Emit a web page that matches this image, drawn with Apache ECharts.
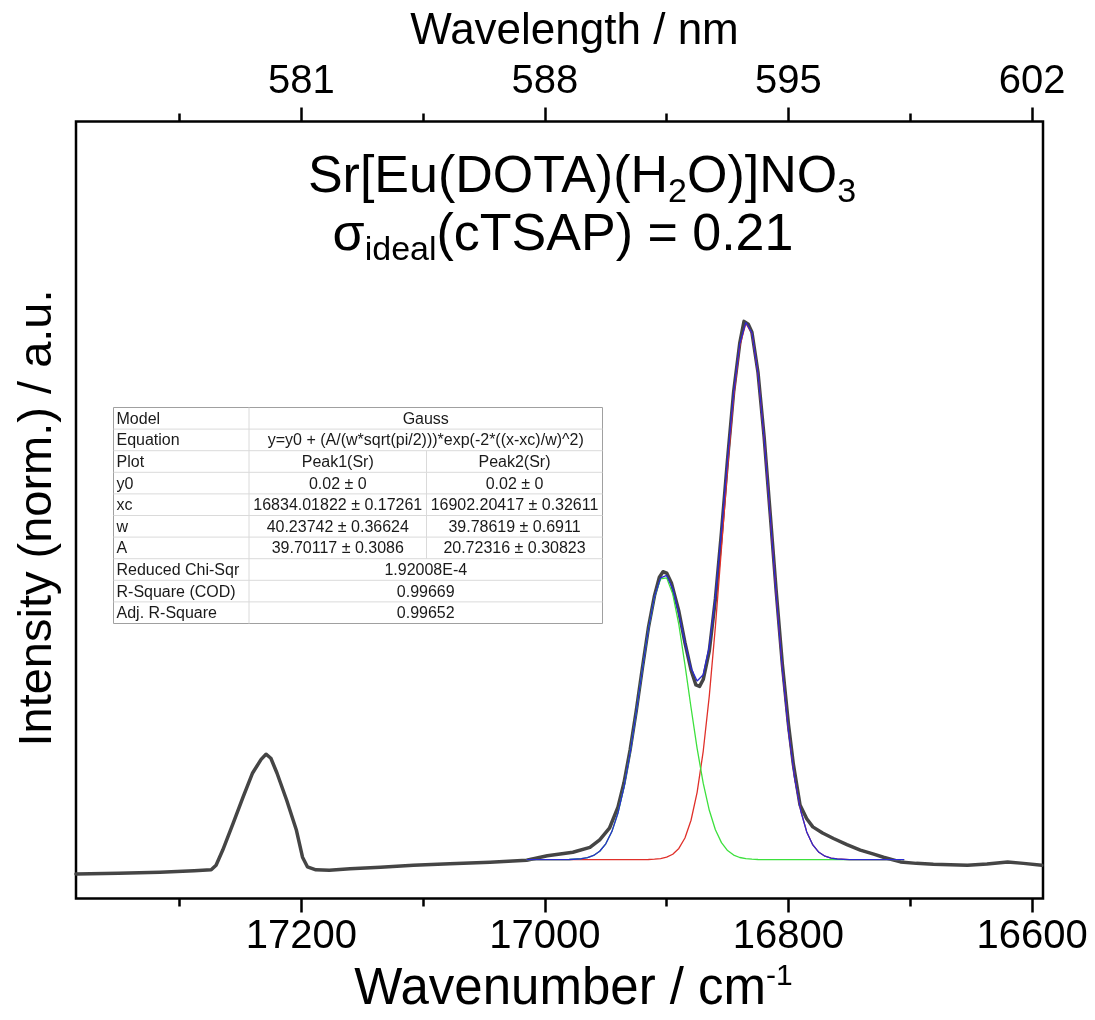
<!DOCTYPE html>
<html>
<head>
<meta charset="utf-8">
<script src="https://cdn.jsdelivr.net/npm/echarts@6/dist/echarts.min.js"></script>
<style>
  html, body { margin: 0; background: #fff; }
  #chart { width: 1095px; height: 1020px; }
</style>
</head>
<body>
<div id="chart"></div>
<script>
// measured spectrum (wavenumber / cm-1, normalised intensity)
const specWavenumber = [17385, 17350, 17316, 17288, 17274, 17270, 17264.5, 17256, 17248, 17240, 17233, 17229, 17227.5, 17225, 17220, 17212, 17204, 17199, 17195, 17188, 17177, 17160, 17135, 17108, 17078, 17045, 17015, 16998, 16977, 16963, 16955, 16947, 16940, 16935, 16930, 16925, 16920, 16915, 16910, 16906, 16903, 16900, 16896, 16890, 16885, 16880, 16876, 16873, 16870, 16865, 16860, 16855, 16850, 16845, 16840, 16836.5, 16833, 16830, 16825, 16820, 16815, 16810, 16805, 16800, 16796, 16790.5, 16785, 16780, 16772, 16763, 16752, 16741, 16730, 16722, 16708, 16695, 16681, 16667, 16653, 16637, 16620, 16607, 16592];
const specIntensity = [-0.001, 0.000, 0.0015, 0.0037, 0.005, 0.0117, 0.034, 0.073, 0.111, 0.147, 0.167, 0.1745, 0.1737, 0.1686, 0.147, 0.107, 0.063, 0.0235, 0.0095, 0.0051, 0.0044, 0.0066, 0.0088, 0.0117, 0.0139, 0.0161, 0.019, 0.0257, 0.0308, 0.038, 0.049, 0.066, 0.097, 0.133, 0.181, 0.238, 0.300, 0.360, 0.407, 0.434, 0.442, 0.440, 0.425, 0.384, 0.338, 0.298, 0.276, 0.274, 0.284, 0.326, 0.402, 0.500, 0.607, 0.706, 0.777, 0.809, 0.805, 0.793, 0.734, 0.640, 0.527, 0.412, 0.306, 0.218, 0.160, 0.100, 0.080, 0.068, 0.059, 0.051, 0.042, 0.034, 0.028, 0.0235, 0.0166, 0.0145, 0.0132, 0.0125, 0.0117, 0.0135, 0.0166, 0.0145, 0.0117];

// gauss fit curves
const fitWavenumber = [17015, 17000, 16990, 16980, 16970, 16965, 16960, 16955, 16950, 16945, 16940, 16935, 16930, 16925, 16920, 16915, 16910, 16905, 16900, 16895, 16890, 16885, 16880, 16875, 16870, 16865, 16860, 16855, 16850, 16845, 16840, 16835, 16830, 16825, 16820, 16815, 16810, 16805, 16800, 16795, 16790, 16785, 16780, 16775, 16770, 16765, 16760, 16750, 16740, 16730, 16720, 16705];
const fitPeak1 = [0.02, 0.02, 0.02, 0.02, 0.02, 0.02, 0.02, 0.02, 0.02, 0.02, 0.02, 0.02, 0.02, 0.02, 0.0201, 0.0202, 0.0206, 0.0216, 0.0236, 0.0279, 0.0364, 0.0517, 0.0777, 0.1187, 0.1788, 0.2601, 0.3615, 0.4765, 0.5937, 0.6978, 0.7728, 0.806, 0.7916, 0.7321, 0.6378, 0.5239, 0.4063, 0.2985, 0.2087, 0.1403, 0.092, 0.0606, 0.0415, 0.0307, 0.025, 0.0222, 0.0209, 0.0201, 0.02, 0.02, 0.02, 0.02];
const fitPeak2 = [0.02, 0.02, 0.02, 0.0202, 0.0213, 0.0229, 0.0261, 0.0323, 0.0432, 0.0611, 0.0883, 0.1267, 0.1765, 0.2355, 0.2985, 0.3578, 0.4048, 0.4314, 0.433, 0.4092, 0.3643, 0.3059, 0.243, 0.1832, 0.1321, 0.0923, 0.0638, 0.0449, 0.0333, 0.0267, 0.0231, 0.0214, 0.0206, 0.0202, 0.0201, 0.02, 0.02, 0.02, 0.02, 0.02, 0.02, 0.02, 0.02, 0.02, 0.02, 0.02, 0.02, 0.02, 0.02, 0.02, 0.02, 0.02];
const fitCumulative = [0.02, 0.02, 0.02, 0.0202, 0.0213, 0.0229, 0.0261, 0.0323, 0.0432, 0.0611, 0.0883, 0.1267, 0.1765, 0.2355, 0.2986, 0.358, 0.4054, 0.433, 0.4366, 0.4171, 0.3807, 0.3376, 0.3007, 0.2819, 0.2909, 0.3324, 0.4053, 0.5014, 0.607, 0.7045, 0.7759, 0.8074, 0.7922, 0.7323, 0.6379, 0.5239, 0.4063, 0.2985, 0.2087, 0.1403, 0.092, 0.0606, 0.0415, 0.0307, 0.025, 0.0222, 0.0209, 0.0201, 0.02, 0.02, 0.02, 0.02];

const majorTicks = [17200, 17000, 16800, 16600];
const minorTicks = [17300, 17100, 16900, 16700];
const wavelengthLabels = ['581', '588', '595', '602'];

const tableRows = [
  ['Model', 'Gauss'],
  ['Equation', 'y=y0 + (A/(w*sqrt(pi/2)))*exp(-2*((x-xc)/w)^2)'],
  ['Plot', 'Peak1(Sr)', 'Peak2(Sr)'],
  ['y0', '0.02 ± 0', '0.02 ± 0'],
  ['xc', '16834.01822 ± 0.17261', '16902.20417 ± 0.32611'],
  ['w', '40.23742 ± 0.36624', '39.78619 ± 0.6911'],
  ['A', '39.70117 ± 0.3086', '20.72316 ± 0.30823'],
  ['Reduced Chi-Sqr', '1.92008E-4'],
  ['R-Square (COD)', '0.99669'],
  ['Adj. R-Square', '0.99652']
];

const FONT = "'Liberation Sans', Arial, sans-serif";
const X_MIN = 16591;
const X_MAX = 17385;

function zip(xs, ys) {
  return xs.map((x, i) => [x, ys[i]]);
}

function xAxis(position, ticks, tickLen, withLabels) {
  return {
    type: 'value',
    position: position,
    min: X_MIN,
    max: X_MAX,
    inverse: true,
    axisLine: { show: false, onZero: false },
    splitLine: { show: false },
    axisTick: {
      customValues: ticks,
      length: tickLen,
      lineStyle: { color: '#000', width: 2.5 }
    },
    axisLabel: withLabels ? {
      customValues: ticks,
      fontSize: 40,
      fontFamily: FONT,
      color: '#000',
      margin: 18,
      formatter: v => String(v)
    } : { show: false }
  };
}

function tableGraphic() {
  const rowH = 21.6;
  const colX = [0, 135.5, 313, 489];
  const height = rowH * tableRows.length;
  const txt = (s, x, y, align) => ({
    type: 'text',
    x: x, y: y,
    style: { text: s, font: '16px ' + FONT, fill: '#1a1a1a', align: align, verticalAlign: 'middle' }
  });
  const line = (x1, y1, x2, y2, c) => ({
    type: 'line',
    shape: { x1: x1, y1: y1, x2: x2, y2: y2 },
    style: { stroke: c, lineWidth: 1 }
  });
  const children = [{
    type: 'rect',
    shape: { x: 0, y: 0, width: colX[3], height: height },
    style: { fill: '#fff', stroke: '#a0a0a0', lineWidth: 1 }
  }];
  tableRows.forEach((row, i) => {
    const y = i * rowH;
    const cy = y + rowH / 2 + 1;
    if (i > 0) children.push(line(0, y, colX[3], y, '#dadada'));
    children.push(txt(row[0], 3, cy, 'left'));
    if (row.length === 2) {
      children.push(txt(row[1], (colX[1] + colX[3]) / 2, cy, 'center'));
    } else {
      children.push(txt(row[1], (colX[1] + colX[2]) / 2, cy, 'center'));
      children.push(txt(row[2], (colX[2] + colX[3]) / 2, cy, 'center'));
      children.push(line(colX[2], y, colX[2], y + rowH, '#dadada'));
    }
  });
  children.push(line(colX[1], 0, colX[1], height, '#dadada'));
  return { type: 'group', x: 113.5, y: 407.5, z: 10, children: children };
}

const chart = echarts.init(document.getElementById('chart'), null, { renderer: 'canvas' });

const option = {
  animation: false,
  backgroundColor: '#fff',
  grid: {
    show: true,
    left: 76, right: 52, top: 121.5, bottom: 121.5,
    containLabel: false,
    outerBoundsMode: 'none',
    borderColor: '#000',
    borderWidth: 2.5,
    backgroundColor: 'transparent'
  },
  xAxis: [
    Object.assign(xAxis('bottom', majorTicks, 14, true), {
      name: 'Wavenumber / cm{sup|-1}',
      nameLocation: 'middle',
      nameGap: 60,
      nameTextStyle: {
        fontSize: 51, fontFamily: FONT, color: '#000', lineHeight: 58,
        padding: [0, 0, 0, 28],
        rich: { sup: { fontSize: 30, fontFamily: FONT, color: '#000', lineHeight: 30, verticalAlign: 'top' } }
      }
    }),
    xAxis('bottom', minorTicks, 8, false),
    Object.assign(xAxis('top', majorTicks, 14, true), {
      axisLabel: {
        customValues: majorTicks,
        fontSize: 40, fontFamily: FONT, color: '#000', margin: 20,
        formatter: v => wavelengthLabels[majorTicks.indexOf(v)]
      },
      name: 'Wavelength / nm',
      nameLocation: 'middle',
      nameGap: 68,
      nameTextStyle: { fontSize: 44, fontFamily: FONT, color: '#000', padding: [0, 0, 0, 30] }
    }),
    xAxis('top', minorTicks, 8, false)
  ],
  yAxis: {
    type: 'value',
    min: -0.037,
    max: 1.102,
    axisLine: { show: false, onZero: false },
    axisTick: { show: false },
    axisLabel: { show: false },
    splitLine: { show: false },
    name: 'Intensity (norm.) / a.u.',
    nameLocation: 'middle',
    nameGap: 14,
    nameTextStyle: { fontSize: 47, fontFamily: FONT, color: '#000', padding: [0, 16, 0, 0] }
  },
  series: [
    {
      name: 'data', type: 'line', showSymbol: false, z: 2,
      data: zip(specWavenumber, specIntensity),
      lineStyle: { color: '#454545', width: 3.5, join: 'round', cap: 'round' }
    },
    {
      name: 'peak1', type: 'line', showSymbol: false, z: 3,
      data: zip(fitWavenumber, fitPeak1),
      lineStyle: { color: '#e0302a', width: 1.3 }
    },
    {
      name: 'peak2', type: 'line', showSymbol: false, z: 3,
      data: zip(fitWavenumber, fitPeak2),
      lineStyle: { color: '#3de03d', width: 1.3 }
    },
    {
      name: 'cumulative', type: 'line', showSymbol: false, z: 4,
      data: zip(fitWavenumber, fitCumulative),
      lineStyle: { color: '#2a2ad2', width: 1.3 }
    }
  ],
  graphic: [
    {
      type: 'text', x: 582, y: 178, z: 10,
      style: {
        text: '{a|Sr[Eu(DOTA)(H}{s|2}{a|O)]NO}{s|3}',
        align: 'center', verticalAlign: 'middle',
        rich: {
          a: { fontSize: 52, fontFamily: FONT, fill: '#000', lineHeight: 64 },
          s: { fontSize: 34, fontFamily: FONT, fill: '#000', lineHeight: 34, verticalAlign: 'bottom', padding: [22, 0, 0, 0] }
        }
      }
    },
    {
      type: 'text', x: 563, y: 236, z: 10,
      style: {
        text: '{a|σ}{s|ideal}{a|(cTSAP) = 0.21}',
        align: 'center', verticalAlign: 'middle',
        rich: {
          a: { fontSize: 52, fontFamily: FONT, fill: '#000', lineHeight: 64 },
          s: { fontSize: 34, fontFamily: FONT, fill: '#000', lineHeight: 34, verticalAlign: 'bottom', padding: [22, 0, 0, 0] }
        }
      }
    },
    tableGraphic()
  ]
};

chart.setOption(option);
</script>
</body>
</html>
